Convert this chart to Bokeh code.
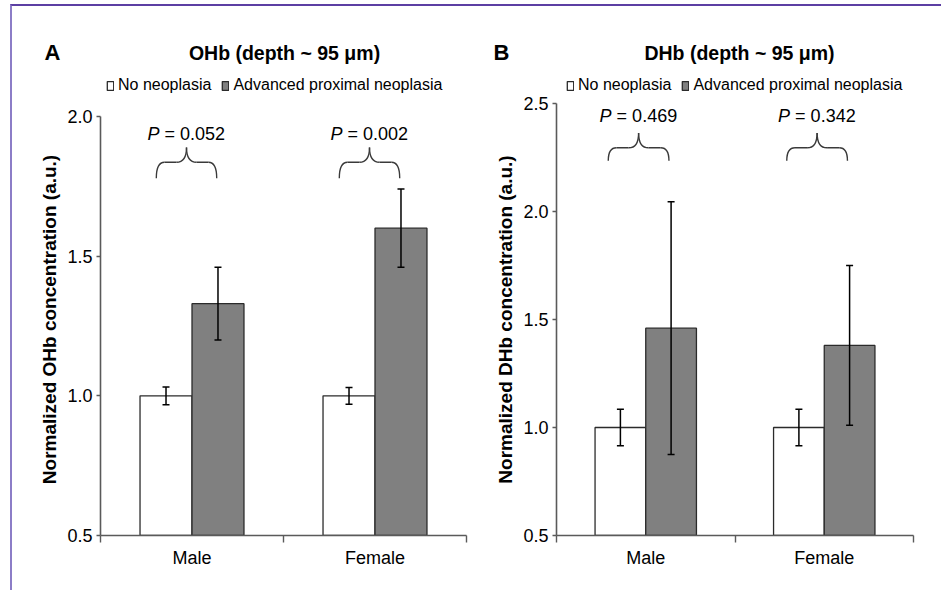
import numpy as np
from bokeh.plotting import figure
from bokeh.layouts import row, column
from bokeh.models import (ColumnDataSource, Range1d, FixedTicker, Whisker, TeeHead,
                          Legend, LegendItem)
from bokeh.embed import file_html
from bokeh.resources import INLINE
from bokeh.core.properties import value

# ---------------- data ----------------
categories = ["Male", "Female"]
series_names = ["No neoplasia", "Advanced proximal neoplasia"]

ohb_no = [1.00, 1.00]
ohb_no_err = [0.032, 0.030]
ohb_adv = [1.33, 1.60]
ohb_adv_err = [0.13, 0.14]
ohb_p = ["0.052", "0.002"]
ohb_ticks = [0.5, 1.0, 1.5, 2.0]

dhb_no = [1.00, 1.00]
dhb_no_err = [0.085, 0.085]
dhb_adv = [1.46, 1.38]
dhb_adv_err = [0.585, 0.37]
dhb_p = ["0.469", "0.342"]
dhb_ticks = [0.5, 1.0, 1.5, 2.0, 2.5]

panel_letters = ["A", "B"]
panel_titles = ["OHb (depth ~ 95 μm)", "DHb (depth ~ 95 μm)"]

FONT = "Liberation Sans"
AXIS_COL = "#5a5a5a"
BAR_LINE = "#2b2b2b"
GRAY = "#808080"

WA, WB = 458, 471
HEADER_H = 88
MAIN_H = 496
N = len(categories)
CENTERS = np.arange(N) + 0.5
OFF, BW = 0.142, 0.284


def bar_sources(no_vals, no_err, adv_vals, adv_err):
    src_no = ColumnDataSource(dict(x=CENTERS - OFF, top=no_vals,
                                   upper=np.array(no_vals) + np.array(no_err),
                                   lower=np.array(no_vals) - np.array(no_err)))
    src_adv = ColumnDataSource(dict(x=CENTERS + OFF, top=adv_vals,
                                    upper=np.array(adv_vals) + np.array(adv_err),
                                    lower=np.array(adv_vals) - np.array(adv_err)))
    return src_no, src_adv


src_a = bar_sources(ohb_no, ohb_no_err, ohb_adv, ohb_adv_err)
src_b = bar_sources(dhb_no, dhb_no_err, dhb_adv, dhb_adv_err)


def make_header():
    w = WA + WB
    h = figure(width=w, height=HEADER_H, x_range=Range1d(0, w),
               y_range=Range1d(0, HEADER_H), output_backend="svg", toolbar_location=None,
               tools="", x_axis_location=None, y_axis_location=None,
               min_border_left=0, min_border_right=0, min_border_top=0, min_border_bottom=0)
    h.outline_line_color = None
    h.xgrid.visible = False
    h.ygrid.visible = False
    # positions in header pixels
    letter_x = [40, 489]
    title_x = [272, 727]
    head_y = [42, 42]
    h.text(x=letter_x, y=head_y, text=panel_letters, text_font=value(FONT),
           text_font_size="22px", text_font_style="bold", text_align="center",
           text_baseline="middle", text_color="black")
    h.text(x=title_x, y=head_y, text=panel_titles, text_font=value(FONT),
           text_font_size="19.5px", text_font_style="bold", text_align="center",
           text_baseline="middle", text_color="black")
    # legend keys (invisible proxies of the bar series)
    for (s_no, s_adv), loc in ((src_a, (94, 0)), (src_b, (554, 0))):
        r_no = h.vbar(x="x", top="top", bottom=0, width=BW, source=s_no, visible=False,
                      fill_color="white", line_color=BAR_LINE, line_width=1.3)
        r_adv = h.vbar(x="x", top="top", bottom=0, width=BW, source=s_adv, visible=False,
                       fill_color=GRAY, line_color=BAR_LINE, line_width=1.3)
        legend = Legend(items=[LegendItem(label=series_names[0], renderers=[r_no]),
                               LegendItem(label=series_names[1], renderers=[r_adv])],
                        location=loc, orientation="horizontal",
                        glyph_width=8, glyph_height=11, label_standoff=4, spacing=10,
                        padding=0, margin=0, border_line_color=None,
                        background_fill_alpha=0, label_text_font=FONT,
                        label_text_font_size="16px", label_text_color="black",
                        label_height=18)
        h.add_layout(legend)
    return h


def make_panel(ylabel, srcs, pvals, ticks, width, height, bl, br, bt, bb, lay):
    ymin = ticks[0]
    p = figure(width=width, height=height, x_range=Range1d(0, N),
               y_range=Range1d(ymin, lay["y_top"]),
               output_backend="svg", toolbar_location=None, tools="",
               min_border_left=bl, min_border_right=br, min_border_top=bt, min_border_bottom=bb)
    p.outline_line_color = None
    p.xgrid.visible = False
    p.ygrid.visible = False

    src_no, src_adv = srcs
    p.vbar(x="x", top="top", bottom=ymin, width=BW, source=src_no,
           fill_color="white", line_color=BAR_LINE, line_width=1.3)
    p.vbar(x="x", top="top", bottom=ymin, width=BW, source=src_adv,
           fill_color=GRAY, line_color=BAR_LINE, line_width=1.3)

    for src in (src_no, src_adv):
        w = Whisker(base="x", upper="upper", lower="lower", source=src, level="overlay",
                    line_color="black", line_width=1.5,
                    upper_head=TeeHead(size=7, line_color="black", line_width=1.5),
                    lower_head=TeeHead(size=7, line_color="black", line_width=1.5))
        p.add_layout(w)

    # braces + P values
    bc = CENTERS + lay["brace_shift"]
    hw = lay["brace_hw"]
    r = lay["brace_r"]
    tipw = lay["brace_tip"]
    y_end, y_mid, y_tip = lay["brace_y"]
    bcol = "#3a3a3a"
    ye, ym, yt = [y_end] * N, [y_mid] * N, [y_tip] * N
    p.quadratic(x0=bc - hw, y0=ye, x1=bc - hw + r, y1=ym, cx=bc - hw, cy=ym,
                line_color=bcol, line_width=1.4)
    p.quadratic(x0=bc + hw, y0=ye, x1=bc + hw - r, y1=ym, cx=bc + hw, cy=ym,
                line_color=bcol, line_width=1.4)
    p.segment(x0=bc - hw + r, y0=ym, x1=bc - tipw, y1=ym, line_color=bcol, line_width=1.4)
    p.segment(x0=bc + hw - r, y0=ym, x1=bc + tipw, y1=ym, line_color=bcol, line_width=1.4)
    p.quadratic(x0=bc - tipw, y0=ym, x1=bc, y1=yt, cx=bc, cy=ym, line_color=bcol, line_width=1.4)
    p.quadratic(x0=bc + tipw, y0=ym, x1=bc, y1=yt, cx=bc, cy=ym, line_color=bcol, line_width=1.4)

    py = [lay["p_y"]] * N
    p.text(x=bc, y=py, text=["P"] * N, text_font=value(FONT), text_font_size="18px",
           text_font_style="italic", text_align="right", text_baseline="middle",
           x_offset=-27, text_color="black")
    p.text(x=bc, y=py, text=["= " + v for v in pvals], text_font=value(FONT),
           text_font_size="18px", text_align="left", text_baseline="middle",
           x_offset=-22, text_color="black")

    # axes
    p.yaxis.ticker = FixedTicker(ticks=ticks)
    p.yaxis.bounds = (ticks[0], ticks[-1])
    p.yaxis.major_label_overrides = {t: f"{t:.1f}" for t in ticks}
    p.yaxis.major_tick_out = 4
    p.yaxis.major_tick_in = 0
    p.yaxis.axis_label = ylabel
    p.yaxis.axis_label_text_font = FONT
    p.yaxis.axis_label_text_font_style = "bold"
    p.yaxis.axis_label_text_font_size = "19px"
    p.yaxis.axis_label_standoff = 4
    p.yaxis.major_label_standoff = 4

    p.xaxis.ticker = FixedTicker(ticks=list(CENTERS), minor_ticks=list(range(N + 1)))
    p.xaxis.major_label_overrides = {float(c): cat for c, cat in zip(CENTERS, categories)}
    p.xaxis.major_tick_out = 0
    p.xaxis.major_tick_in = 0
    p.xaxis.minor_tick_out = 7
    p.xaxis.minor_tick_in = 0
    p.xaxis.major_label_standoff = 5

    for ax in (p.xaxis, p.yaxis):
        ax.axis_line_color = AXIS_COL
        ax.axis_line_width = 1.6
        ax.major_tick_line_color = AXIS_COL
        ax.major_tick_line_width = 1.4
        ax.minor_tick_line_color = AXIS_COL
        ax.minor_tick_line_width = 1.4
        ax.major_label_text_font = FONT
        ax.major_label_text_font_size = "18px"
        ax.major_label_text_color = "black"
        ax.axis_label_text_color = "black"
    p.yaxis.minor_tick_line_color = None
    return p


# y_top: top of the plotting frame (panel A has headroom above its 2.0 axis end)
lay_a = dict(brace_shift=-0.03, brace_hw=0.165, brace_r=0.045, brace_tip=0.055,
             brace_y=(1.779, 1.836, 1.889), p_y=1.939, y_top=2.0464)
lay_b = dict(brace_shift=-0.04, brace_hw=0.17, brace_r=0.046, brace_tip=0.056,
             brace_y=(2.235, 2.295, 2.364), p_y=2.443, y_top=2.5)

header = make_header()
pa = make_panel("Normalized OHb concentration (a.u.)", src_a, ohb_p, ohb_ticks,
                WA, MAIN_H, 88, 4, 9, 55, lay_a)
pb = make_panel("Normalized DHb concentration (a.u.)", src_b, dhb_p, dhb_ticks,
                WB, MAIN_H, 86, 28, 9, 55, lay_b)

layout = column(header, row(pa, pb),
                styles={"margin-left": "10px", "margin-top": "4px",
                        "border-top": "2px solid #5c3fa3",
                        "border-left": "2px solid #8c7dc7"})

open("out.html", "w").write(file_html(layout, INLINE))
